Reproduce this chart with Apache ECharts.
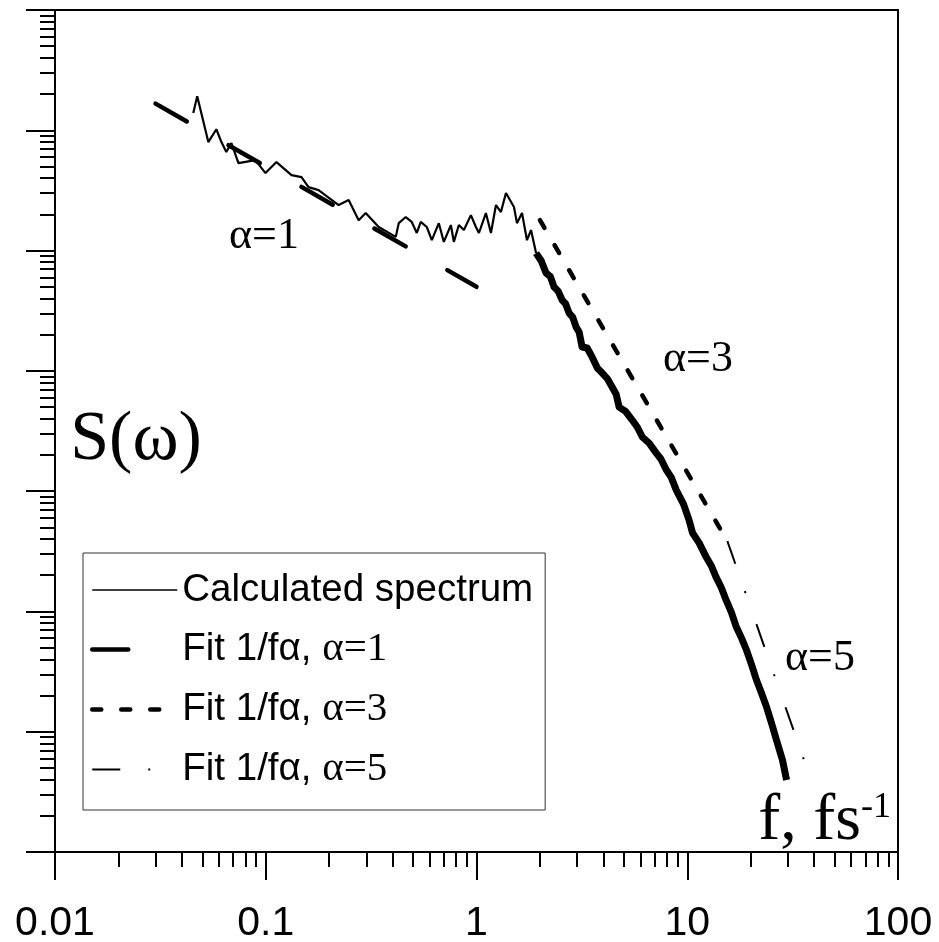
<!DOCTYPE html>
<html>
<head>
<meta charset="utf-8">
<script src="https://cdn.jsdelivr.net/npm/echarts@6/dist/echarts.min.js"></script>
<style>
  html, body { margin: 0; padding: 0; background: #fff; }
  #chart { width: 939px; height: 942px; }
</style>
</head>
<body>
<div id="chart"></div>
<script>
// calculated spectrum, low frequency part (thin line)
const specLowF = [0.0453, 0.0473, 0.0534, 0.0583, 0.0616, 0.065, 0.0687, 0.0742, 0.0893, 0.0997,
  0.1124, 0.1325, 0.1478, 0.1596, 0.1781, 0.2217, 0.2474, 0.276, 0.298, 0.3435, 0.4138,
  0.4276, 0.4617, 0.493, 0.5208, 0.5441, 0.5809, 0.6137, 0.6626, 0.6999, 0.7556, 0.7808,
  0.8248, 0.8712, 0.9406, 0.9934, 1.027, 1.108, 1.171, 1.237, 1.306, 1.38, 1.506, 1.556,
  1.644, 1.736, 1.814, 1.917];
const specLowS = [1.39e6, 1.92e6, 7.98e5, 1.02e6, 7.98e5, 6.59e5, 7.83e5, 5.34e5, 5.65e5, 4.41e5,
  5.44e5, 4.24e5, 4.08e5, 3.37e5, 3.18e5, 2.39e5, 2.63e5, 1.79e5, 2.05e5, 1.57e5, 1.30e5,
  1.69e5, 1.90e5, 1.73e5, 1.40e5, 1.73e5, 1.57e5, 1.22e5, 1.69e5, 1.18e5, 1.63e5, 1.18e5,
  1.63e5, 1.48e5, 1.97e5, 1.57e5, 1.40e5, 2.05e5, 1.40e5, 2.39e5, 2.09e5, 3.01e5, 2.30e5, 1.69e5,
  2.05e5, 1.22e5, 1.48e5, 9.53e4];
// calculated spectrum, noisy high frequency part (drawn thick)
const specHighF = [1.917, 2.03, 2.138, 2.24, 2.334, 2.44, 2.548, 2.65, 2.75, 2.86, 2.97, 3.07,
  3.17, 3.35, 3.54, 3.75, 3.95, 4.18, 4.4, 4.6, 4.75, 5.1, 5.48, 5.8, 6.12, 6.6, 7.13, 7.5,
  7.96, 8.4, 8.87, 9.6, 10.2, 10.6, 11.4, 12.3, 13.0, 13.7, 14.5, 15.3, 16.2, 17.1, 18.1, 19.1,
  20.2, 21.3, 22.5, 23.8, 25.1, 26.5, 28.3, 29.6];
const specHighS = [9.53e4, 8.2e4, 6.5e4, 6.1e4, 4.97e4, 4.6e4, 3.88e4, 3.6e4, 3.02e4, 2.8e4,
  2.31e4, 2.1e4, 1.58e4, 1.55e4, 1.3e4, 1.05e4, 9.59e3, 8.6e3, 7.33e3, 6.4e3, 5.0e3, 4.6e3,
  3.9e3, 3.4e3, 2.82e3, 2.5e3, 2.07e3, 1.85e3, 1.5e3, 1.3e3, 1.02e3, 780, 575, 449, 370, 283,
  240, 193, 158, 124, 98, 74.2, 60, 47.8, 36, 26.9, 21, 16.0, 11.8, 8.53, 5.82, 3.97];
// fits 1/f^alpha
const fit1F = [0.03, 1];
const fit1S = [1.667e6, 5e4];
const fit3F = [2, 15.5];
const fit3S = [1.79e5, 384];
const fit5F = [15.5, 40];
const fit5S = [384, 3.34];

const seriesNames = ['Calculated spectrum', 'Fit 1/fα, α=1', 'Fit 1/fα, α=3', 'Fit 1/fα, α=5'];
const legendRich = {
  'Calculated spectrum': '{s|Calculated spectrum}',
  'Fit 1/fα, α=1': '{s|Fit 1/fα, }{t|α=1}',
  'Fit 1/fα, α=3': '{s|Fit 1/fα, }{t|α=3}',
  'Fit 1/fα, α=5': '{s|Fit 1/fα, }{t|α=5}'
};

const zip = (a, b) => a.map((v, i) => [v, b[i]]);

// minor ticks at 2..9 of every decade, in log10 units (helper axes)
const minorTicks = (from, to) => {
  const out = [];
  for (let d = from; d < to; d++) {
    for (let m = 2; m <= 9; m++) out.push(d + Math.log10(m));
  }
  return out;
};

const sans = 'Liberation Sans, Arial, sans-serif';
const serif = 'Liberation Serif, Times New Roman, serif';

const chart = echarts.init(document.getElementById('chart'), null, { renderer: 'canvas' });

const lineBase = { type: 'line', showSymbol: false, symbol: 'none', xAxisIndex: 0, yAxisIndex: 0, animation: false };

chart.setOption({
  animation: false,
  grid: {
    left: 55, right: 41, top: 10, bottom: 90,
    show: true, borderColor: '#000', borderWidth: 2,
    outerBoundsMode: 'none'
  },
  xAxis: [
    {
      type: 'log', logBase: 10, min: 0.01, max: 100, interval: 1,
      position: 'bottom',
      axisLine: { show: true, onZero: false, lineStyle: { color: '#000', width: 2 } },
      axisTick: { show: true, inside: false, length: 28, lineStyle: { color: '#000', width: 2 } },
      minorTick: { show: false },
      splitLine: { show: false },
      axisLabel: { color: '#000', fontFamily: sans, fontSize: 41, margin: 51 }
    },
    {
      type: 'value', min: -2, max: 2,
      position: 'bottom',
      axisLine: { show: false, onZero: false },
      axisTick: { show: true, inside: false, length: 15, customValues: minorTicks(-2, 2), lineStyle: { color: '#000', width: 2 } },
      splitLine: { show: false },
      axisLabel: { show: false }
    }
  ],
  yAxis: [
    {
      type: 'log', logBase: 10, min: 1, max: 1e7, interval: 1,
      position: 'left',
      axisLine: { show: true, onZero: false, lineStyle: { color: '#000', width: 2 } },
      axisTick: { show: true, inside: false, length: 29, lineStyle: { color: '#000', width: 2 } },
      minorTick: { show: false },
      splitLine: { show: false },
      axisLabel: { show: false }
    },
    {
      type: 'value', min: 0, max: 7,
      position: 'left',
      axisLine: { show: false, onZero: false },
      axisTick: { show: true, inside: false, length: 15, customValues: minorTicks(0, 7), lineStyle: { color: '#000', width: 2 } },
      splitLine: { show: false },
      axisLabel: { show: false }
    }
  ],
  legend: {
    orient: 'vertical',
    left: 83, top: 553,
    padding: [17, 12, 20, 7],
    borderColor: '#333', borderWidth: 1,
    itemWidth: 85, itemHeight: 14, itemGap: 19,
    selectedMode: false,
    itemStyle: { opacity: 0 },
    data: [
      { name: seriesNames[0], lineStyle: { width: 1.5 } },
      { name: seriesNames[1], lineStyle: { width: 4.5, type: [36, 120] } },
      { name: seriesNames[2], lineStyle: { width: 4.5 } },
      { name: seriesNames[3], lineStyle: { width: 2, type: [28, 28, 2, 40] } }
    ],
    formatter: (name) => legendRich[name],
    textStyle: {
      color: '#000',
      lineHeight: 40,
      rich: {
        s: { fontFamily: sans, fontSize: 38.5, color: '#000', lineHeight: 40 },
        t: { fontFamily: serif, fontSize: 41, color: '#000', lineHeight: 40 }
      }
    }
  },
  series: [
    {
      ...lineBase, name: seriesNames[0], data: zip(specLowF, specLowS),
      lineStyle: { color: '#000', width: 2.2 }, itemStyle: { color: '#000' }, z: 5
    },
    {
      ...lineBase, name: seriesNames[0], data: zip(specHighF, specHighS),
      lineStyle: { color: '#000', width: 7, join: 'round' }, itemStyle: { color: '#000' }, z: 5
    },
    {
      ...lineBase, name: seriesNames[1], data: zip(fit1F, fit1S),
      lineStyle: { color: '#000', width: 4.5, type: [36, 48], cap: 'round' }, itemStyle: { color: '#000' }
    },
    {
      ...lineBase, name: seriesNames[2], data: zip(fit3F, fit3S),
      lineStyle: { color: '#000', width: 4.5, type: [9, 20], cap: 'round' }, itemStyle: { color: '#000' }
    },
    {
      ...lineBase, name: seriesNames[3], data: zip(fit5F, fit5S),
      lineStyle: { color: '#000', width: 2, type: [24, 29, 2, 33] }, itemStyle: { color: '#000' }
    }
  ],
  graphic: [
    { type: 'text', x: 136, y: 441, style: { text: 'S(ω)', font: '70px ' + serif, fill: '#000', textAlign: 'center', textVerticalAlign: 'middle' } },
    { type: 'text', x: 264, y: 236, style: { text: 'α=1', font: '44px ' + serif, fill: '#000', textAlign: 'center', textVerticalAlign: 'middle' } },
    { type: 'text', x: 698, y: 359, style: { text: 'α=3', font: '44px ' + serif, fill: '#000', textAlign: 'center', textVerticalAlign: 'middle' } },
    { type: 'text', x: 820, y: 658, style: { text: 'α=5', font: '44px ' + serif, fill: '#000', textAlign: 'center', textVerticalAlign: 'middle' } },
    {
      type: 'text', x: 891, y: 854,
      style: {
        text: '{a|f, fs}{b|-1}', textAlign: 'right', textVerticalAlign: 'bottom',
        rich: {
          a: { fontFamily: serif, fontSize: 66, fill: '#000', lineHeight: 64 },
          b: { fontFamily: serif, fontSize: 36, fill: '#000', verticalAlign: 'top', lineHeight: 64 }
        }
      }
    }
  ]
});
</script>
</body>
</html>
